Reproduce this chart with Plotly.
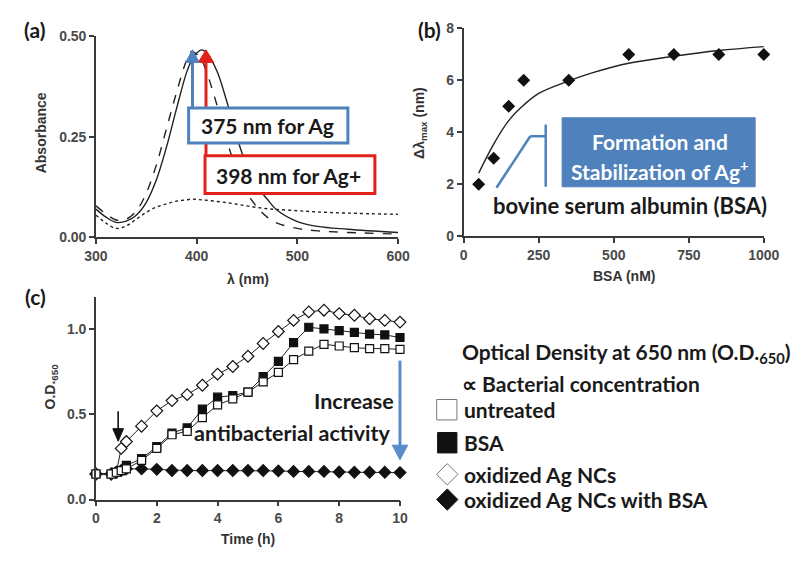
import plotly.graph_objects as go

W, H = 803, 561

# ---------------- (a) absorption spectra ----------------
wavelength = [300, 310, 320, 330, 340, 350, 360, 370, 380, 390, 395, 400, 405,
              410, 420, 430, 440, 450, 460, 470, 480, 500, 520, 550, 600]
abs_solid = [0.070, 0.050, 0.037, 0.040, 0.055, 0.087, 0.143, 0.224, 0.320, 0.410,
             0.440, 0.458, 0.466, 0.458, 0.414, 0.337, 0.248, 0.176, 0.127, 0.095,
             0.067, 0.039, 0.027, 0.020, 0.012]
abs_dashed = [0.078, 0.058, 0.043, 0.045, 0.065, 0.110, 0.180, 0.270, 0.360, 0.440,
              0.462, 0.455, 0.440, 0.410, 0.330, 0.240, 0.165, 0.110, 0.075, 0.050,
              0.035, 0.022, 0.016, 0.012, 0.008]
abs_dotted = [0.055, 0.035, 0.022, 0.028, 0.045, 0.062, 0.075, 0.083, 0.090, 0.093,
              0.095, 0.094, 0.093, 0.092, 0.089, 0.086, 0.082, 0.078, 0.074, 0.071,
              0.069, 0.066, 0.063, 0.060, 0.057]

# ---------------- (b) peak shift vs BSA ----------------
bsa_nM = [50, 100, 150, 200, 350, 550, 700, 850, 1000]
shift_nm = [2, 3, 5, 6, 6, 7, 7, 7, 7]
fit_x = [50, 100, 150, 200, 250, 350, 425, 550, 700, 850, 1000]
fit_y = [2.43, 3.55, 4.45, 5.05, 5.5, 5.98, 6.28, 6.66, 6.93, 7.15, 7.3]

# ---------------- (c) bacterial growth ----------------
time_h = [0, 0.5, 0.67, 0.83, 1.0, 1.5, 2, 2.5, 3, 3.5, 4, 4.5, 5, 5.5, 6, 6.5,
          7, 7.5, 8, 8.5, 9, 9.5, 10]
od_untreated = [0.15, 0.15, 0.16, 0.17, 0.18, 0.23, 0.30, 0.38, 0.40, 0.48, 0.555,
                0.59, 0.63, 0.69, 0.745, 0.82, 0.87, 0.91, 0.90, 0.89, 0.885, 0.885, 0.88]
od_bsa = [0.15, 0.15, 0.16, 0.17, 0.20, 0.24, 0.31, 0.39, 0.42, 0.53, 0.60, 0.61,
          0.63, 0.72, 0.81, 0.92, 1.01, 1.00, 0.99, 0.98, 0.97, 0.965, 0.95]
od_agnc = [0.15, 0.15, 0.16, 0.30, 0.34, 0.43, 0.52, 0.58, 0.615, 0.67, 0.735, 0.78,
           0.84, 0.915, 0.985, 1.05, 1.10, 1.11, 1.09, 1.08, 1.06, 1.05, 1.04]
od_agnc_bsa = [0.15, 0.15, 0.16, 0.17, 0.18, 0.18, 0.177, 0.17, 0.17, 0.17, 0.17,
               0.17, 0.17, 0.17, 0.168, 0.165, 0.165, 0.165, 0.162, 0.16, 0.16, 0.16, 0.158]

legend_labels = ["untreated", "BSA", "oxidized Ag NCs", "oxidized Ag NCs with BSA"]

INK = "#222222"
AXC = "#3a3a3a"
BLUE = "#4f81bd"
RED = "#e3211c"
TXT = "Lato, 'Open Sans', sans-serif"
AXF = "'Liberation Sans', Arial, sans-serif"


def px(x):
    return x / W


def py(y):
    return 1 - y / H


fig = go.Figure()

# spectra
for ys, dash in [(abs_dotted, "dot"), (abs_dashed, "dash"), (abs_solid, "solid")]:
    fig.add_trace(go.Scatter(x=wavelength, y=ys, mode="lines", line_shape="spline",
                             line=dict(color=INK, width=1.4, dash=dash),
                             xaxis="x", yaxis="y", showlegend=False))

# shift data + fitted curve
fig.add_trace(go.Scatter(x=fit_x, y=fit_y, mode="lines", line_shape="spline",
                         line=dict(color=INK, width=1.4), xaxis="x2", yaxis="y2",
                         showlegend=False))
fig.add_trace(go.Scatter(x=bsa_nM, y=shift_nm, mode="markers",
                         marker=dict(symbol="diamond", size=10, color="#111"),
                         xaxis="x2", yaxis="y2", cliponaxis=False, showlegend=False))

# growth curves
growth = [
    (od_agnc_bsa, "diamond", "#111", 9),
    (od_agnc, "diamond", "white", 9),
    (od_bsa, "square", "#111", 8),
    (od_untreated, "square", "white", 8),
]
for ys, sym, fill, sz in growth:
    fig.add_trace(go.Scatter(x=time_h, y=ys, mode="lines+markers",
                             line=dict(color=INK, width=1),
                             marker=dict(symbol=sym, size=sz, color=fill,
                                         line=dict(color="#111", width=1.2)),
                             xaxis="x3", yaxis="y3", cliponaxis=False,
                             showlegend=False))

axis_common = dict(showline=True, linecolor=AXC, linewidth=1.5, ticks="outside",
                   ticklen=5, tickwidth=1.5, tickcolor=AXC, showgrid=False,
                   zeroline=False, fixedrange=True,
                   tickfont=dict(family=AXF, size=14, color="#4a4a4a", weight="bold"))

fig.update_layout(
    width=W, height=H, margin=dict(l=0, r=0, t=0, b=0),
    paper_bgcolor="white", plot_bgcolor="white",
    xaxis=dict(domain=[px(87), px(400)], range=[300, 600],
               tickvals=[300, 400, 500, 600], anchor="y", **axis_common),
    yaxis=dict(domain=[py(236), py(29)], range=[0, 0.5], tickvals=[0, 0.25, 0.5],
               ticktext=["0.00", "0.25", "0.50"], anchor="x", **axis_common),
    xaxis2=dict(domain=[px(468), px(779)], range=[0, 1000],
                tickvals=[0, 250, 500, 750, 1000], anchor="y2", **axis_common),
    yaxis2=dict(domain=[py(235), py(21)], range=[0, 8], tickvals=[0, 2, 4, 6, 8],
                anchor="x2", **axis_common),
    xaxis3=dict(domain=[px(87), px(402)], range=[0, 10],
                tickvals=[0, 2, 4, 6, 8, 10], anchor="y3", **axis_common),
    yaxis3=dict(domain=[py(506), py(297)], range=[0, 1.19], tickvals=[0, 0.5, 1.0],
                ticktext=["0.0", "0.5", "1.0"], anchor="x3", **axis_common),
)

shapes = []


def line(x0, y0, x1, y1, color, width):
    shapes.append(dict(type="line", xref="paper", yref="paper",
                       x0=px(x0), y0=py(y0), x1=px(x1), y1=py(y1),
                       line=dict(color=color, width=width), layer="above"))


def head(xt, yt, half, length, color, up=True):
    yb = yt + length if up else yt - length
    path = (f"M {px(xt)} {py(yt)} L {px(xt - half)} {py(yb)} "
            f"L {px(xt + half)} {py(yb)} Z")
    shapes.append(dict(type="path", xref="paper", yref="paper", path=path,
                       fillcolor=color, line=dict(color=color, width=1), layer="above"))


def box(x0, y0, x1, y1, edge, fill, width):
    shapes.append(dict(type="rect", xref="paper", yref="paper",
                       x0=px(x0), y0=py(y1), x1=px(x1), y1=py(y0),
                       line=dict(color=edge, width=width), fillcolor=fill,
                       layer="above"))


# (a) peak markers and labels
line(201, 152, 201, 54, RED, 3)
head(201, 43, 8, 13, RED)
line(187, 103, 187, 54, BLUE, 3)
head(187, 43, 7, 13, BLUE)
box(183, 103, 348, 139, BLUE, "white", 3)
box(200, 152, 376, 191, RED, "white", 3)

# (b) formation box and BSA bracket
box(570, 113, 770, 184, BLUE, BLUE, 1)
line(502, 185, 537, 132, BLUE, 2.5)
line(537, 132, 553, 132, BLUE, 2.5)
line(553, 120, 553, 184, BLUE, 2.5)

# (c) arrows
line(110, 415, 110, 434, "#111", 1.6)
head(110, 446, 5.5, 13, "#111", up=False)
line(402, 363, 402, 452, "#5b8bc9", 3)
head(402, 465, 8, 15, "#5b8bc9", up=False)

# (c) legend swatches
box(440, 403, 461, 424, "#777", "white", 1)
box(441, 437, 461, 458, "#111", "#111", 1)
for cy, fill, edge in [(480, "white", "#777"), (506, "#111", "#111")]:
    cx, r = 451, 11
    shapes.append(dict(type="path", xref="paper", yref="paper",
                       path=(f"M {px(cx)} {py(cy - r)} L {px(cx + r)} {py(cy)} "
                             f"L {px(cx)} {py(cy + r)} L {px(cx - r)} {py(cy)} Z"),
                       fillcolor=fill, line=dict(color=edge, width=1), layer="above"))

fig.update_layout(shapes=shapes)

ann = []


def text(x, y, s, size=21, color="#1a1a1a", family=TXT, xanchor="center",
         angle=0, weight="bold"):
    ann.append(dict(x=px(x), y=py(y), xref="paper", yref="paper", text=s,
                    showarrow=False, xanchor=xanchor, yanchor="middle",
                    textangle=angle,
                    font=dict(family=family, size=size, color=color, weight=weight)))


# panel letters
text(23, 22, "(a)", 21)
text(433, 22, "(b)", 21)
text(24, 297, "(c)", 21)

# axis titles
text(30, 128, "Absorbance", 14, "#333", AXF, angle=-90)
text(245, 279, "λ (nm)", 14, "#333", AXF)
text(422, 118, "Δλ<sub>max</sub> (nm)", 14, "#333", AXF, angle=-90)
text(634, 276, "BSA (nM)", 14, "#333", AXF)
text(40, 390, "O.D.<sub>650</sub>", 14, "#333", AXF, angle=-90)
text(245, 547, "Time (h)", 14, "#333", AXF)

# (a) labels
text(265, 121, "375 nm for Ag", 21)
text(286, 172, "398 nm for Ag+", 21)

# (b) labels
text(671, 137, "Formation and", 21, "white")
text(671, 167, "Stabilization of Ag<sup>+</sup>", 21, "white")
text(640, 203, "bovine serum albumin (BSA)", 22)

# (c) labels
text(398, 405, "Increase", 21.5, xanchor="right")
text(394, 437, "antibacterial activity", 21.5, xanchor="right")
text(464, 355, "Optical Density at 650 nm (O.D.<sub>650</sub>)", 21, xanchor="left")
text(464, 387, "∝ Bacterial concentration", 21, xanchor="left")
for yy, lab in zip([413, 447, 480, 506], legend_labels):
    text(466, yy, lab, 21, xanchor="left")

fig.update_layout(annotations=ann)

fig.write_html("out.html")
